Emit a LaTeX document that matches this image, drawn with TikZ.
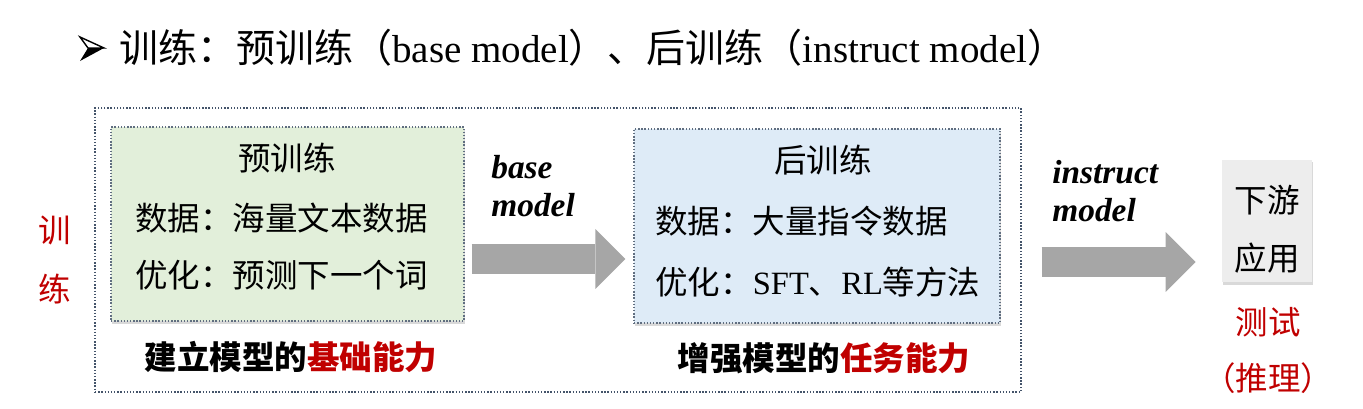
\documentclass[tikz,border=0pt]{standalone}
\usepackage{fontspec}
\setmainfont{Liberation Serif}
\newfontfamily\cjk{Noto Sans CJK SC}
\usetikzlibrary{arrows.meta, positioning, calc, shadows}
\definecolor{trainred}{RGB}{192, 0, 0}
\definecolor{pregreen}{RGB}{226, 239, 218}
\definecolor{postblue}{RGB}{222, 235, 247}
\definecolor{appgray}{RGB}{237, 237, 237}
\definecolor{arrowgray}{RGB}{166, 166, 166}
\definecolor{framegray}{RGB}{68, 84, 106}

\begin{document}
\begin{tikzpicture}[
    x=0.02cm, y=-0.02cm,
    txt/.style={font=\cjk\fontsize{18.5}{22}\selectfont, inner sep=0pt},
    hint/.style={txt, text=trainred},
    captext/.style={font=\cjk\bfseries\fontsize{18.5}{22}\selectfont, inner sep=0pt},
    modelname/.style={font=\rmfamily\bfseries\itshape\fontsize{19}{22}\selectfont, align=left, inner sep=0pt, anchor=west},
    stagebox/.style={rectangle, draw=framegray!85, densely dotted, line width=0.8pt, minimum height=3.88cm,
        drop shadow={shadow xshift=0.6pt, shadow yshift=-1.8pt, opacity=0.3}},
    appbox/.style={rectangle, fill=appgray, minimum width=1.8cm, minimum height=2.46cm,
        drop shadow={shadow xshift=0.8pt, shadow yshift=-1.5pt, opacity=0.3}},
    bigarrow/.style={arrowgray, line width=0.6cm, -{Triangle[length=0.6cm, width=1.2cm, line width=0pt]}}
]
\useasboundingbox (0,0) rectangle (1363,409);

% Headline
\draw[line width=0.8pt, line join=miter] (80,37) -- (104,48) -- (88,48) -- cycle;
\fill (88,48) -- (104,48) -- (80,61) -- cycle;
\node[anchor=west, inner sep=0pt, font=\fontsize{22.2}{26}\selectfont] (head) at (119,48)
    {{\cjk 训练：预训练（}base model{\cjk ）、后训练（}instruct model{\cjk ）}};

% Frame round both stages
\node[rectangle, draw=framegray, densely dotted, line width=0.8pt, minimum width=18.52cm, minimum height=5.68cm] (train) at (558,250) {};
\node[hint, align=center, font=\cjk\fontsize{18.5}{34}\selectfont] (side) at (55,260) {训\\练};

% Pre-training
\node[stagebox, fill=pregreen, minimum width=7.06cm] (pre) at (287.5,224) {};
\node[txt] (pretitle) at (287,158) {预训练};
\node[txt, anchor=west] (predata) at (135,218) {数据：海量文本数据};
\node[txt, anchor=west] (preopt) at (135,275) {优化：预测下一个词};
\node[captext] (precap) at (291,357) {建立模型的\textcolor{trainred}{基础能力}};

% Post-training
\node[stagebox, fill=postblue, minimum width=7.32cm] (post) at (817,226) {};
\node[txt] (posttitle) at (823,160) {后训练};
\node[txt, anchor=west] (postdata) at (655,221) {数据：大量指令数据};
\node[txt, anchor=west] (postopt) at (655,282) {优化：{\rmfamily SFT}、{\rmfamily RL}等方法};
\node[captext] (postcap) at (824,358) {增强模型的\textcolor{trainred}{任务能力}};

% Downstream use
\node[appbox] (app) at (1267,221) {};
\node[txt] (appup) at (1267,200) {下游};
\node[txt] (applow) at (1267,258) {应用};
\node[hint] (test) at (1268,322) {测试};
\node[hint] (infer) at (1268,378) {（推理）};

% Arrows
\node[modelname] (base) at (491,186) {base\\model};
\draw[bigarrow] ($(pre.east)+(7,35)$) -- ($(pre.east -| post.west)+(-8,35)$);
\node[modelname] (inst) at (1052,191) {instruct\\model};
\draw[bigarrow] ($(post.east)+(41,36)$) -- ($(post.east -| app.west)+(-26,36)$);

\end{tikzpicture}
\end{document}
